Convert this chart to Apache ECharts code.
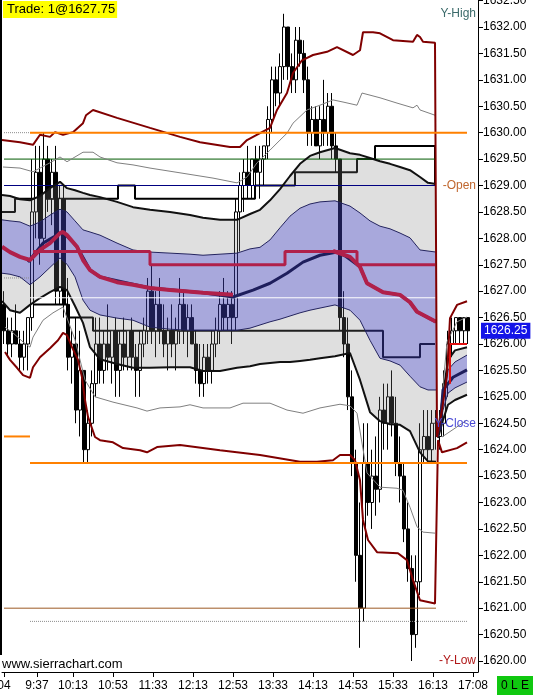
<!DOCTYPE html>
<html><head><meta charset="utf-8">
<script src="https://cdn.jsdelivr.net/npm/echarts@6/dist/echarts.min.js"></script>
<style>html,body{margin:0;padding:0;background:#fff}#c{width:535px;height:695px}</style>
</head><body><div id="c"></div>
<script>
const FONT = '"Liberation Sans", Arial, sans-serif';

// ---- axis ticks ----
const xTickValues = [4,37,73,113,153,193,233,273,313,353,393,433,473];
const xTickLabels = ['04','9:37','10:13','10:53','11:33','12:13','12:53','13:33','14:13','14:53','15:33','16:13','17:08'];
const yTickValues = [1620.0,1620.5,1621.0,1621.5,1622.0,1622.5,1623.0,1623.5,1624.0,1624.5,1625.0,1625.5,1626.0,1626.5,1627.0,1627.5,1628.0,1628.5,1629.0,1629.5,1630.0,1630.5,1631.0,1631.5,1632.0,1632.5];
const barSlotCount = 119;

// ---- OHLC bars ----
const opens = [
1626.75,1626.25,1626.0,1626.25,1626.0,1625.75,1626.0,1626.5,1628.5,1629.25,
1628.0,1629.5,1628.75,1629.25,1627.0,1628.75,1626.75,1625.75,1626.0,1624.75,
1625.5,1624.0,1624.5,1625.25,1626.0,1625.5,1626.0,1625.75,1626.25,1625.5,
1626.0,1625.75,1626.25,1625.75,1625.5,1626.0,1626.25,1627.0,1626.25,1626.75,
1626.25,1626.0,1626.25,1626.0,1626.25,1626.75,1626.25,1626.5,1626.0,1625.5,
1625.25,1625.75,1625.5,1626.0,1626.25,1626.75,1626.5,1626.75,1626.5,1628.5,
1629.0,1629.25,1629.0,1629.5,1629.25,1629.5,1629.75,1630.25,1631.0,1630.75,
1631.25,1632.0,1631.25,1631.0,1631.75,1631.5,1631.0,1630.0,1630.25,1629.75,
1630.25,1630.0,1630.5,1629.75,1629.5,1626.5,1626.0,1625.0,1623.75,1622.0,
1621.0,1623.75,1623.0,1623.5,1623.25,1624.75,1624.5,1625.0,1624.5,1623.75,
1623.5,1622.5,1621.75,1620.5,1621.5,1624.0,1624.25,1624.0,1624.5,1624.25,
1624.5,1625.25,1626.0,1626.25,1626.5,1626.25,1626.5];
const closes = [
1626.25,1626.0,1626.25,1626.0,1625.75,1626.0,1626.5,1628.5,1629.25,1628.0,
1629.5,1628.75,1629.25,1627.0,1628.75,1626.75,1625.75,1626.0,1624.75,1625.5,
1624.0,1624.5,1625.25,1626.0,1625.5,1626.0,1625.75,1626.25,1625.5,1626.0,
1625.75,1626.25,1625.75,1625.5,1626.0,1626.25,1627.0,1626.25,1626.75,1626.25,
1626.0,1626.25,1626.0,1626.25,1626.75,1626.25,1626.5,1626.0,1625.5,1625.25,
1625.75,1625.5,1626.0,1626.25,1626.75,1626.5,1626.75,1626.5,1628.5,1629.0,
1629.25,1629.0,1629.5,1629.25,1629.5,1629.75,1630.25,1631.0,1630.75,1631.25,
1632.0,1631.25,1631.0,1631.75,1631.5,1631.0,1630.0,1630.25,1629.75,1630.25,
1630.0,1630.5,1629.75,1629.5,1626.5,1626.0,1625.0,1623.75,1622.0,1621.0,
1623.75,1623.0,1623.5,1623.25,1624.75,1624.5,1625.0,1624.5,1623.75,1623.5,
1622.5,1621.75,1620.5,1621.5,1624.0,1624.25,1624.0,1624.5,1624.5,1624.5,
1625.25,1626.0,1626.25,1626.5,1626.25,1626.5,1626.25];
const highs = [
1627.0,1626.5,1626.5,1626.75,1626.25,1626.25,1626.5,1629.5,1629.75,1629.75,
1630.0,1629.75,1629.5,1629.75,1629.0,1629.0,1627.25,1626.25,1626.5,1626.25,
1625.5,1624.75,1625.5,1626.5,1626.5,1626.25,1626.75,1626.25,1626.5,1626.25,
1626.5,1626.25,1626.5,1626.0,1626.25,1626.5,1627.25,1627.5,1627.0,1627.25,
1626.75,1626.5,1626.75,1626.5,1627.25,1627.0,1626.75,1626.75,1626.25,1626.0,
1626.0,1626.0,1626.25,1626.5,1627.0,1627.25,1627.0,1627.0,1628.75,1629.25,
1629.5,1629.75,1629.5,1629.75,1629.75,1629.75,1630.5,1631.25,1631.25,1631.5,
1632.25,1632.0,1631.5,1632.0,1632.0,1631.75,1631.25,1630.5,1630.5,1630.5,
1631.0,1630.75,1630.75,1630.0,1629.5,1627.0,1626.5,1625.5,1624.0,1623.0,
1624.5,1624.5,1624.0,1624.25,1625.0,1625.25,1625.25,1625.5,1625.0,1624.25,
1623.75,1623.0,1622.0,1622.0,1624.5,1624.75,1624.75,1624.75,1624.75,1624.75,
1625.5,1626.25,1626.5,1626.5,1626.5,1626.5,1626.5];
const lows = [
1626.0,1625.75,1625.75,1626.0,1625.5,1625.5,1625.5,1626.25,1628.0,1627.5,
1627.75,1628.5,1628.25,1626.75,1626.75,1626.5,1625.5,1625.25,1624.5,1624.25,
1623.75,1623.75,1624.25,1625.0,1625.25,1625.25,1625.5,1625.25,1625.0,1625.0,
1625.5,1625.5,1625.5,1625.0,1625.0,1625.75,1626.0,1626.0,1625.75,1626.0,
1625.75,1625.5,1625.75,1625.5,1626.0,1626.0,1625.75,1626.0,1625.25,1625.0,
1625.0,1625.25,1625.25,1625.75,1626.0,1626.25,1626.25,1626.0,1626.25,1627.75,
1628.5,1628.75,1628.75,1629.0,1628.75,1629.0,1629.5,1630.0,1630.5,1630.5,
1631.0,1631.0,1630.75,1630.75,1631.25,1630.75,1629.75,1629.75,1629.75,1629.5,
1629.75,1629.75,1629.5,1629.25,1626.25,1625.75,1624.75,1623.5,1621.5,1620.25,
1620.75,1622.75,1622.5,1622.75,1623.0,1624.0,1624.0,1624.25,1623.5,1623.0,
1622.25,1621.5,1620.0,1620.25,1621.25,1623.75,1623.75,1623.75,1624.0,1624.0,
1624.25,1625.0,1625.75,1626.0,1626.0,1626.0,1626.0];

// ---- bands (time in minutes on the time axis, prices) ----
const bandTime1 = [2,10,20,30,40,50,60,67,75,83,90,100,117,133,150,170,190,203,220,237,250,260,270,280,290,300,310,320,335,350,360,370,380,390,400,410,420,428,436];
const greyTop1 = [1628.82,1628.80,1628.74,1628.72,1628.80,1628.95,1629.07,1628.95,1628.91,1628.86,1628.82,1628.78,1628.69,1628.59,1628.54,1628.50,1628.44,1628.39,1628.35,1628.35,1628.46,1628.54,1628.72,1628.93,1629.18,1629.41,1629.56,1629.63,1629.71,1629.61,1629.58,1629.52,1629.46,1629.41,1629.35,1629.29,1629.16,1629.05,1629.03];
const blueTop1 = [1628.35,1628.33,1628.31,1628.23,1628.31,1628.44,1628.55,1628.50,1628.33,1628.16,1628.12,1628.06,1627.91,1627.78,1627.74,1627.72,1627.70,1627.68,1627.70,1627.72,1627.80,1627.83,1627.97,1628.20,1628.42,1628.57,1628.65,1628.69,1628.71,1628.61,1628.48,1628.33,1628.23,1628.18,1628.10,1628.01,1627.78,1627.76,1627.74];
const blueBot1 = [1627.34,1627.32,1627.27,1627.12,1627.27,1627.45,1627.63,1627.51,1627.27,1626.83,1626.64,1626.55,1626.49,1626.45,1626.32,1626.28,1626.26,1626.26,1626.26,1626.26,1626.30,1626.36,1626.42,1626.47,1626.53,1626.59,1626.64,1626.68,1626.74,1626.64,1626.45,1626.07,1625.73,1625.68,1625.60,1625.39,1625.19,1625.13,1625.13];
const greyBot1 = [1626.81,1626.64,1626.59,1626.74,1626.87,1626.98,1627.08,1627.02,1626.72,1626.40,1625.94,1625.71,1625.62,1625.55,1625.55,1625.56,1625.56,1625.49,1625.49,1625.55,1625.58,1625.62,1625.64,1625.66,1625.66,1625.68,1625.70,1625.73,1625.77,1625.83,1625.32,1624.71,1624.54,1624.48,1624.47,1624.35,1623.95,1623.78,1623.77];
const bandTime2 = [438,443,448,455,467];
const greyTop2 = [1624.33,1625.04,1625.70,1625.88,1625.94];
const blueTop2 = [1624.30,1624.94,1625.51,1625.66,1625.79];
const blueBot2 = [1624.24,1624.75,1625.07,1625.17,1625.28];
const greyBot2 = [1624.22,1624.56,1624.85,1624.94,1625.04];

// ---- study lines [time, price] ----
const upperRed = [[2,1629.86],[20,1629.82],[33,1629.77],[40,1629.96],[50,1629.92],[55,1630.01],[63,1629.96],[73,1630.01],[83,1630.18],[86,1630.33],[93,1630.43],[117,1630.28],[150,1630.09],[180,1629.92],[200,1629.82],[230,1629.73],[240,1629.73],[247,1629.86],[260,1629.99],[270,1630.09],[277,1630.43],[287,1630.75],[293,1631.13],[302,1631.37],[313,1631.47],[327,1631.53],[337,1631.62],[353,1631.47],[360,1631.56],[363,1631.90],[373,1631.90],[380,1631.88],[393,1631.75],[413,1631.72],[417,1631.85],[420,1631.81],[423,1631.72],[435,1631.70],[437,1624.24],[442,1624.75],[447,1625.41],[450,1626.49],[457,1626.74],[467,1626.81]];
const lowerRed = [[5,1625.85],[10,1625.70],[17,1625.55],[23,1625.41],[30,1625.36],[33,1625.56],[40,1625.75],[50,1625.92],[58,1626.07],[63,1626.21],[67,1626.17],[72,1625.94],[78,1625.70],[82,1625.37],[85,1624.94],[88,1624.62],[95,1624.24],[100,1624.18],[113,1624.14],[123,1624.03],[140,1623.99],[147,1623.95],[157,1624.05],[180,1624.09],[220,1623.99],[260,1623.90],[300,1623.77],[317,1623.77],[333,1623.80],[340,1623.90],[350,1623.90],[355,1623.80],[360,1623.42],[363,1622.67],[368,1622.29],[377,1622.06],[398,1622.04],[407,1621.91],[413,1621.53],[420,1621.15],[435,1621.09],[438,1624.18],[442,1623.95],[457,1624.03],[467,1624.14]];
const upperGrey = [[3,1629.35],[20,1629.33],[33,1629.26],[50,1629.43],[60,1629.54],[67,1629.45],[83,1629.63],[93,1629.63],[100,1629.54],[117,1629.43],[133,1629.39],[150,1629.33],[180,1629.24],[213,1629.14],[237,1629.05],[247,1629.16],[257,1629.43],[270,1629.67],[280,1629.86],[287,1629.99],[293,1630.18],[307,1630.43],[320,1630.52],[333,1630.62],[343,1630.58],[357,1630.52],[362,1630.75],[380,1630.66],[397,1630.56],[413,1630.47],[417,1630.52],[420,1630.43],[435,1630.33],[436,null],[440,1624.56],[447,1626.04],[457,1626.42],[467,1626.51]];
const lowerGrey = [[5,1626.32],[13,1626.21],[23,1626.04],[30,1625.94],[33,1626.13],[43,1626.45],[53,1626.59],[63,1626.70],[75,1626.08],[85,1625.32],[95,1625.00],[113,1624.90],[137,1624.79],[147,1624.73],[160,1624.79],[180,1624.81],[190,1624.85],[203,1624.79],[230,1624.79],[243,1624.88],[270,1624.88],[287,1624.75],[303,1624.69],[320,1624.79],[340,1624.86],[350,1624.83],[357,1624.69],[367,1623.56],[380,1623.29],[397,1623.27],[403,1623.23],[410,1622.91],[417,1622.54],[423,1622.44],[435,1622.42],[436,null],[442,1624.24],[467,1624.56]];
const crimsonAvg = [[2,1627.84],[10,1627.74],[20,1627.65],[30,1627.59],[40,1627.78],[50,1627.91],[60,1628.10],[63,1628.12],[67,1628.06],[77,1627.84],[83,1627.59],[90,1627.40],[100,1627.27],[117,1627.17],[133,1627.12],[150,1627.06],[170,1627.02],[203,1626.97],[233,1626.93],[240,null],[333,1627.76],[350,1627.65],[360,1627.46],[367,1627.15],[383,1626.98],[400,1626.93],[410,1626.79],[417,1626.61],[427,1626.51],[436,1626.42]];
const navyAvg = [[28,1627.55],[43,1627.91],[57,1628.06],[63,1628.12],[77,1627.84],[90,1627.40],[100,1627.27],[150,1627.06],[203,1626.97],[233,1626.89],[253,1627.02],[270,1627.15],[287,1627.34],[303,1627.55],[320,1627.68],[337,1627.74],[345,1627.67],[360,1627.46],[367,1627.15],[383,1626.98],[400,1626.93],[410,1626.79],[417,1626.61],[427,1626.51],[436,1626.42],[437,null],[440,1624.37],[443,1625.13],[453,1625.37],[467,1625.51]];
const crimsonStep = [[33,1627.75],[150,1627.5],[285,1627.75],[357,1627.5],[435,1627.5]];
const upperStep = [[2,1628.5],[15,1628.75],[118,1629.0],[135,1628.75],[255,1629.0],[295,1629.25],[357,1629.5],[375,1629.75],[435,1629.0]];
const lowerStep = [[30,1626.75],[67,1626.5],[93,1626.25],[383,1625.75],[420,1626.0],[435,1626.0]];
const newSessionStep = [[450,1625.25],[450,1626.0],[467,1626.0]];

// ---- horizontal levels ----
const levelLines = [
  {price:1630.0, from:4, to:30, kind:'dotted'},
  {price:1627.25, from:4, to:30, kind:'dotted'},
  {price:1620.75, from:30, to:467, kind:'dotted'},
  {price:1621.0, from:4, to:436, kind:'brown'},
  {price:1629.5, from:4, to:436, kind:'green'},
  {price:1629.0, from:4, to:436, kind:'navy'},
  {price:1626.875, from:30, to:467, kind:'white'},
  {price:1630.0, from:30, to:467, kind:'orange'},
  {price:1623.75, from:30, to:467, kind:'orange'},
  {price:1624.25, from:4, to:30, kind:'orange'}
];
const sideLabels = [
  {text:'Y-High', price:1632.25, kind:'yhigh'},
  {text:'-Open', price:1629.0, kind:'open'},
  {text:'Y-Close', price:1624.5, kind:'yclose'},
  {text:'-Y-Low', price:1620.0, kind:'ylow'}
];
const lastPrice = 1626.25;
const tradeText = 'Trade: 1@1627.75';

// ---------------------------------------------------------------
const levelStyle = {
  dotted:{color:'#8c8c8c', width:1, type:'dotted', z:3},
  brown:{color:'#9c5a24', width:1, type:'solid', z:3},
  green:{color:'#005a00', width:1, type:'solid', z:3},
  navy:{color:'#000080', width:1, type:'solid', z:3},
  white:{color:'#ffffff', width:1, type:'solid', z:4},
  orange:{color:'#ff8000', width:2, type:'solid', z:6}
};
const labelColor = {yhigh:'#3b6a6a', open:'#c0672e', yclose:'#4b4bd6', ylow:'#b01818'};

const slots = Array.from({length: barSlotCount}, (_, i) => String(i));
const candleData = opens.map((o, i) => [o, closes[i], lows[i], highs[i]]);
const toData = arr => arr.map(p => p[1] == null ? [p[0], '-'] : p);

function lineSeries(points, color, width, z, extra) {
  return Object.assign({
    type:'line', xAxisIndex:1, yAxisIndex:0, data: toData(points),
    showSymbol:false, symbol:'none', silent:true, animation:false, clip:true,
    connectNulls:false, z: z,
    lineStyle:{color:color, width:width}
  }, extra || {});
}
function zipBand(ts, vals) { return ts.map((t, k) => [t, vals[k]]); }
function bandSeries(ts, lower, upper, fill) {
  return {
    type:'custom', xAxisIndex:1, yAxisIndex:0, silent:true, animation:false, clip:true, z:2,
    data:[[ts[0], lower[0]]],
    renderItem:(params, api) => {
      const pts = [];
      for (let k = 0; k < ts.length; k++) pts.push(api.coord([ts[k], upper[k]]));
      for (let k = ts.length - 1; k >= 0; k--) pts.push(api.coord([ts[k], lower[k]]));
      return {type:'polygon', shape:{points:pts}, style:{fill:fill, stroke:null}};
    }
  };
}

const GREY_FILL = 'rgba(128,128,128,0.25)';
const BLUE_FILL = 'rgba(62,62,178,0.45)';

const series = [
  {type:'candlestick', xAxisIndex:0, yAxisIndex:0, data:candleData, barWidth:3, z:1, silent:true, animation:false,
   itemStyle:{color:'#ffffff', color0:'#000000', borderColor:'#000000', borderColor0:'#000000', borderColorDoji:'#000000', borderWidth:1}},
  lineSeries(upperStep, '#000000', 2, 1, {step:'end'}),
  lineSeries(lowerStep, '#000000', 2, 1, {step:'end'}),
  bandSeries(bandTime1, greyBot1, blueBot1, GREY_FILL),
  bandSeries(bandTime1, blueBot1, blueTop1, BLUE_FILL),
  bandSeries(bandTime1, blueTop1, greyTop1, GREY_FILL),
  bandSeries(bandTime2, greyBot2, blueBot2, GREY_FILL),
  bandSeries(bandTime2, blueBot2, blueTop2, BLUE_FILL),
  bandSeries(bandTime2, blueTop2, greyTop2, GREY_FILL)
];
levelLines.forEach(l => {
  const s = levelStyle[l.kind];
  series.push(lineSeries([[l.from, l.price],[l.to, l.price]], s.color, s.width, s.z, {lineStyle:{color:s.color, width:s.width, type:s.type}}));
});
series.push(
  lineSeries(zipBand(bandTime1, greyTop1), '#111111', 2, 3),
  lineSeries(zipBand(bandTime1, greyBot1), '#111111', 2, 3),
  lineSeries(zipBand(bandTime1, blueTop1), '#23235e', 1, 3),
  lineSeries(zipBand(bandTime1, blueBot1), '#23235e', 1, 3),
  lineSeries(zipBand(bandTime2, greyTop2), '#111111', 2, 3),
  lineSeries(zipBand(bandTime2, greyBot2), '#111111', 2, 3),
  lineSeries(zipBand(bandTime2, blueTop2), '#23235e', 1, 3),
  lineSeries(zipBand(bandTime2, blueBot2), '#23235e', 1, 3),
  lineSeries(upperGrey, '#808080', 1, 4),
  lineSeries(lowerGrey, '#808080', 1, 4),
  lineSeries(navyAvg, '#1e1e5c', 3, 4),
  lineSeries(crimsonAvg, '#b0204a', 4, 5),
  lineSeries(crimsonStep, '#b0204a', 3, 5, {step:'end'}),
  lineSeries(newSessionStep, '#e01010', 2, 5),
  lineSeries(upperRed, '#800000', 2, 5),
  lineSeries(lowerRed, '#800000', 2, 5)
);

const chart = echarts.init(document.getElementById('c'), null, {renderer:'canvas'});
chart.setOption({
  animation:false,
  backgroundColor:'#ffffff',
  textStyle:{fontFamily:FONT},
  grid:{left:2, right:57, top:0, bottom:23, outerBoundsMode:'none', containLabel:false},
  xAxis:[
    {type:'category', data:slots, show:false, boundaryGap:true, gridIndex:0},
    {type:'value', gridIndex:0, min:2, max:478, position:'bottom',
     axisLine:{show:true, lineStyle:{color:'#000', width:1}},
     axisTick:{show:true, length:5, lineStyle:{color:'#000'}, customValues:xTickValues},
     axisLabel:{show:true, customValues:xTickValues, color:'#000', fontSize:12, fontFamily:FONT, margin:8,
       formatter:v => { const k = xTickValues.indexOf(v); return k >= 0 ? xTickLabels[k] : ''; }},
     splitLine:{show:false}}
  ],
  yAxis:[{type:'value', position:'right', min:1619.792, max:1632.511, scale:true,
    axisLine:{show:true, lineStyle:{color:'#000', width:1}},
    axisTick:{show:true, length:5, lineStyle:{color:'#000'}, customValues:yTickValues},
    axisLabel:{show:true, customValues:yTickValues, color:'#000', fontSize:12, fontFamily:FONT, margin:5,
      formatter:v => Number(v).toFixed(2)},
    splitLine:{show:false}}],
  series:series
});

const py = v => chart.convertToPixel({yAxisIndex:0}, v);
const graphics = [
  {type:'rect', shape:{x:0, y:0, width:2, height:655}, style:{fill:'#000'}, z:100},
  {type:'text', x:3, y:1, z:100, style:{text:tradeText, fill:'#000', font:'13px ' + FONT, backgroundColor:'#ffff00', padding:[2,2,2,4]}},
  {type:'text', x:2, y:664, z:100, style:{text:'www.sierrachart.com', fill:'#000', font:'13px ' + FONT, verticalAlign:'middle'}},
  {type:'rect', shape:{x:497, y:676, width:36, height:19}, style:{fill:'#10c810'}, z:100},
  {type:'text', x:515, y:686, z:101, style:{text:'0 L E', fill:'#000', font:'12px ' + FONT, align:'center', verticalAlign:'middle'}},
  {type:'text', x:481, y:py(lastPrice), z:101, style:{text:lastPrice.toFixed(2), fill:'#ffffff', font:'12px ' + FONT, verticalAlign:'middle', backgroundColor:'#1414e8', padding:[2,3,2,3]}}
];
sideLabels.forEach(l => {
  graphics.push({type:'text', x:476, y:py(l.price), z:100, style:{text:l.text, fill:labelColor[l.kind], font:'12px ' + FONT, align:'right', verticalAlign:'middle'}});
});
chart.setOption({graphic:graphics});
</script>
</body></html>
